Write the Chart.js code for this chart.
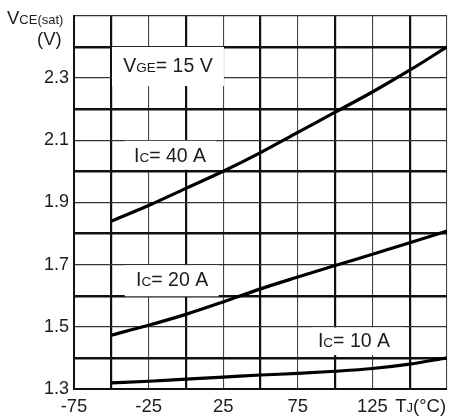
<!DOCTYPE html>
<html>
<head>
<meta charset="utf-8">
<script src="https://cdn.jsdelivr.net/npm/chart.js@4.4.0/dist/chart.umd.min.js"></script>
<style>
  html, body { margin: 0; padding: 0; background: #fff; }
  #wrap { width: 454px; height: 419px; }
</style>
</head>
<body>
<div id="wrap"><canvas id="myChart"></canvas></div>
<script>
// datos (Tj en °C, Vce(sat) en V)
const tempC = [-50, -25, 0, 25, 50, 75, 100, 125, 150, 175];
const vce40A = [1.84, 1.89, 1.945, 2.0, 2.06, 2.125, 2.19, 2.255, 2.325, 2.40];
const vce20A = [1.473, 1.505, 1.54, 1.58, 1.622, 1.66, 1.697, 1.733, 1.77, 1.808];
const vce10A = [1.32, 1.325, 1.332, 1.338, 1.345, 1.35, 1.357, 1.366, 1.38, 1.40];
const xTickLabels = [-75, -25, 25, 75, 125];
const yTickLabels = [1.3, 1.5, 1.7, 1.9, 2.1, 2.3];

const FONT = "'Liberation Sans', Arial, Helvetica, sans-serif";
const INK = '#1c1c1c';

const serie = (vals) => ({
  data: tempC.map((t, i) => ({ x: t, y: vals[i] })),
  borderColor: '#000',
  borderWidth: 3.2,
  pointRadius: 0,
  cubicInterpolationMode: 'monotone',
  fill: false
});

// texto con subindice: [texto grande, subindice, resto]
function textoSub(ctx, x, y, big, sub, rest, sBig, sSub) {
  ctx.font = sBig + 'px ' + FONT;
  ctx.fillText(big, x, y);
  x += ctx.measureText(big).width;
  ctx.font = sSub + 'px ' + FONT;
  ctx.fillText(sub, x, y);
  x += ctx.measureText(sub).width;
  ctx.font = sBig + 'px ' + FONT;
  ctx.fillText(rest, x, y);
}

// etiquetas dentro del grafico, con fondo blanco
const etiquetas = [
  { box: [-49.5, 25.5, 2.4, 2.274], tx: -42, ty: 2.319, big: 'V', sub: 'GE', rest: '= 15 V' },
  { box: [-41, 20, 2.098, 2.005], tx: -34.8, ty: 2.031, big: 'I', sub: 'C', rest: '= 40 A' },
  { box: [-41, 22, 1.698, 1.598], tx: -33.4, ty: 1.630, big: 'I', sub: 'C', rest: '= 20 A' },
  { box: [84, 146, 1.498, 1.409], tx: 88.5, ty: 1.435, big: 'I', sub: 'C', rest: '= 10 A' }
];

const textosPlugin = {
  id: 'textos',
  beforeDatasetsDraw(chart) {
    const ctx = chart.ctx, xs = chart.scales.x, ys = chart.scales.y;
    ctx.save();
    etiquetas.forEach(e => {
      const x0 = xs.getPixelForValue(e.box[0]), x1 = xs.getPixelForValue(e.box[1]);
      const y0 = ys.getPixelForValue(e.box[2]), y1 = ys.getPixelForValue(e.box[3]);
      ctx.fillStyle = '#fff';
      ctx.fillRect(x0, y0, x1 - x0, y1 - y0);
      ctx.fillStyle = INK;
      ctx.textBaseline = 'alphabetic';
      ctx.textAlign = 'left';
      textoSub(ctx, xs.getPixelForValue(e.tx), ys.getPixelForValue(e.ty), e.big, e.sub, e.rest, 19.5, 13.5);
    });
    ctx.restore();
  },
  afterDraw(chart) {
    const ctx = chart.ctx, a = chart.chartArea, xs = chart.scales.x;
    ctx.save();
    ctx.fillStyle = INK;
    ctx.textBaseline = 'alphabetic';
    ctx.textAlign = 'left';
    // titulo eje Y
    textoSub(ctx, a.left - 67, a.top + 8, 'V', 'CE(sat)', '', 18.5, 13);
    ctx.font = '18.5px ' + FONT;
    ctx.fillText('(V)', a.left - 37, a.top + 29);
    // titulo eje X
    textoSub(ctx, xs.getPixelForValue(140.3), a.bottom + 23, 'T', 'J', '(°C)', 18.5, 13);
    ctx.restore();
  }
};

const esGruesoX = v => Math.round(v) % 50 === 0;
const esGruesoY = v => Math.round(v * 10) % 2 === 0;

new Chart(document.getElementById('myChart'), {
  type: 'line',
  data: { datasets: [serie(vce40A), serie(vce20A), serie(vce10A)] },
  options: {
    responsive: true,
    maintainAspectRatio: false,
    animation: false,
    layout: { padding: { top: 14, right: 7, left: 0, bottom: 0 } },
    plugins: { legend: { display: false }, tooltip: { enabled: false } },
    scales: {
      x: {
        type: 'linear', min: -75, max: 175,
        afterFit: s => { s.height = 30; },
        border: { color: '#111', width: 2 },
        grid: {
          drawTicks: false,
          color: c => esGruesoX(c.tick.value) ? '#111' : '#444',
          lineWidth: c => esGruesoX(c.tick.value) ? 2.2 : 1.1
        },
        ticks: {
          stepSize: 25, padding: 7, color: INK, maxRotation: 0, autoSkip: false,
          font: { family: FONT, size: 18.5 },
          callback: v => xTickLabels.includes(Math.round(v)) ? String(Math.round(v)) : ''
        }
      },
      y: {
        type: 'linear', min: 1.3, max: 2.5,
        afterFit: s => { s.width = 74; },
        border: { color: '#111', width: 2 },
        grid: {
          drawTicks: false,
          color: c => esGruesoY(c.tick.value) ? '#111' : '#333',
          lineWidth: c => esGruesoY(c.tick.value) ? 2.4 : 1.3
        },
        ticks: {
          stepSize: 0.1, padding: 5, color: INK, autoSkip: false,
          font: { family: FONT, size: 18 },
          callback: v => {
            const r = Math.round(v * 10) / 10;
            return yTickLabels.includes(r) ? r.toFixed(1) : '';
          }
        }
      }
    }
  },
  plugins: [textosPlugin]
});
</script>
</body>
</html>
